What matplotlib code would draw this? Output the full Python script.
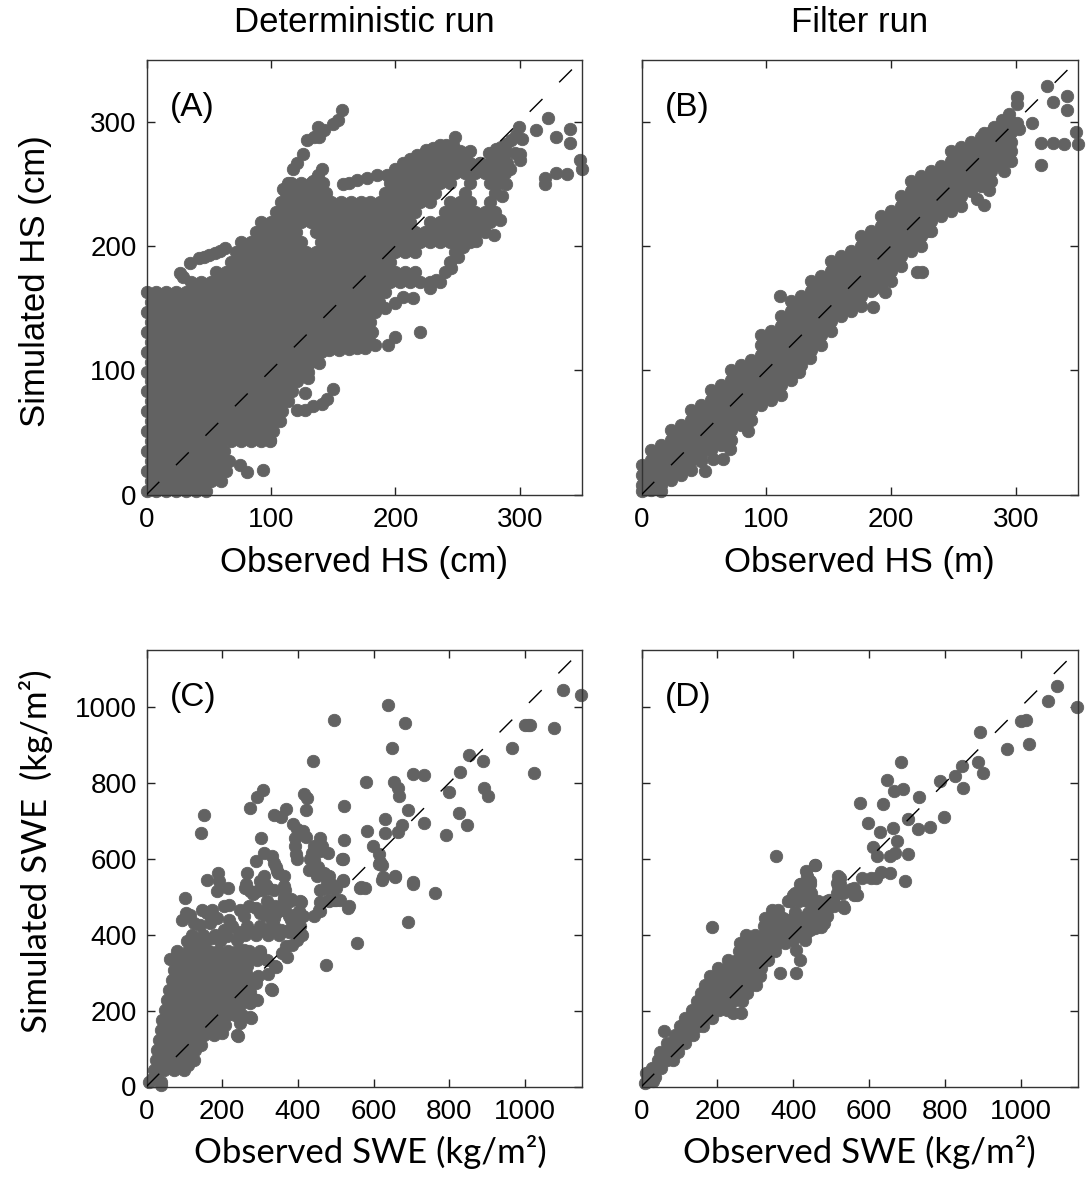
import matplotlib
matplotlib.use("Agg")
import matplotlib.pyplot as plt

plt.rcParams['font.family'] = ['Liberation Sans', 'DejaVu Sans']

# ---------------- Panel A : deterministic run, snow height (cm) ----------------
# dense cloud read row by row: simulated level -> observed values on that row
sim_a_levels = [3, 11, 19, 27, 35, 43, 51, 59, 67, 75, 83, 91, 99, 107, 115, 123, 131,
                139, 147, 155, 163, 171, 179, 187, 195, 203, 211, 219, 227, 235, 243,
                251, 259, 267, 275]
obs_a_rows = [
    [0, 8, 16, 24, 32, 40, 48],
    [4, 12, 20, 28, 36, 44, 52, 60],
    [0, 8, 16, 24, 32, 40, 48, 56, 64],
    [4, 12, 20, 28, 36, 44, 52, 60, 66],
    [0, 8, 16, 24, 32, 40, 48, 56, 62],
    [4, 12, 20, 28, 36, 44, 52, 60, 68, 76, 84, 92, 99],
    [0, 8, 16, 24, 32, 40, 48, 56, 64, 72, 80, 88, 96, 102],
    [4, 12, 20, 28, 36, 44, 52, 60, 68, 76, 84, 92, 100, 107],
    [0, 8, 16, 24, 32, 40, 48, 56, 64, 72, 80, 88, 96, 104, 109],
    [4, 12, 20, 28, 36, 44, 52, 60, 68, 76, 84, 92, 100, 108, 114],
    [0, 8, 16, 24, 32, 40, 48, 56, 64, 72, 80, 88, 96, 104, 112, 117],
    [4, 12, 20, 28, 36, 44, 52, 60, 68, 76, 84, 92, 100, 108, 116, 121],
    [0, 8, 16, 24, 32, 40, 48, 56, 64, 72, 80, 88, 96, 104, 112, 120, 126],
    [4, 12, 20, 28, 36, 44, 52, 60, 68, 76, 84, 92, 100, 108, 116, 124, 132],
    [0, 8, 16, 24, 32, 40, 48, 56, 64, 72, 80, 88, 96, 104, 112, 120, 128, 136, 140],
    [4, 12, 20, 28, 36, 44, 52, 60, 68, 76, 84, 92, 100, 108, 116, 124, 132, 140, 148, 156, 164, 172, 180],
    [0, 8, 16, 24, 32, 40, 48, 56, 64, 72, 80, 88, 96, 104, 112, 120, 128, 136, 144, 152, 160, 168, 176, 181],
    [4, 12, 20, 28, 36, 44, 52, 60, 68, 76, 84, 92, 100, 108, 116, 124, 132, 140, 148, 156, 164, 172, 180],
    [0, 8, 16, 24, 32, 40, 48, 56, 64, 72, 80, 88, 96, 104, 112, 120, 128, 136, 144, 152, 160, 168, 176, 184],
    [4, 12, 20, 28, 36, 44, 52, 60, 68, 76, 84, 92, 100, 108, 116, 124, 132, 140, 148, 156, 164, 172, 180, 187],
    [0, 8, 16, 24, 32, 40, 48, 56, 64, 72, 80, 88, 96, 104, 112, 120, 128, 136, 144, 152, 160, 168, 176, 184, 192],
    [36, 44, 52, 60, 68, 76, 84, 92, 100, 108, 116, 124, 132, 140, 148, 156, 164, 172, 180, 188, 196, 204, 212, 220, 228, 236],
    [56, 64, 72, 80, 88, 96, 104, 112, 120, 128, 136, 144, 152, 160, 168, 176, 184, 192, 200, 208, 216, 240],
    [68, 76, 84, 92, 100, 108, 116, 124, 132, 140, 148, 156, 164, 172, 180, 188, 196, 244],
    [72, 80, 88, 96, 104, 112, 120, 128, 136, 144, 152, 160, 168, 176, 184, 192, 200, 208, 216, 248],
    [76, 84, 92, 100, 108, 116, 124, 140, 148, 156, 164, 172, 180, 188, 196, 204, 212, 220, 228, 236, 244, 252, 260],
    [88, 96, 104, 112, 120, 136, 144, 152, 160, 168, 176, 184, 192, 200, 208, 216, 224, 232, 240, 248, 256, 264, 272],
    [92, 100, 108, 116, 124, 132, 140, 148, 156, 164, 172, 180, 188, 196, 204, 212, 228, 236, 244, 252, 260, 268, 276],
    [104, 112, 120, 128, 136, 144, 152, 160, 168, 176, 184, 192, 200, 208, 216, 240, 248, 256, 264, 272, 280],
    [108, 116, 124, 132, 140, 148, 156, 164, 172, 180, 188, 196, 204, 212, 220, 228, 244, 252, 260, 276],
    [112, 120, 128, 136, 144, 192, 200, 208, 216, 224, 232, 256, 280],
    [116, 124, 132, 140, 196, 204, 212, 220, 228, 236, 244, 260, 276, 284],
    [200, 208, 216, 224, 232, 240, 248, 256, 264, 272, 280, 288],
    [212, 220, 228, 236, 244, 252, 260, 268, 276, 284, 290],
    [224, 232, 240, 248, 256, 280, 288, 296],
]
# individual points on the edges of the cloud (streaks and outliers)
obs_a_extra = [29, 27, 35, 42, 46, 50, 55, 59, 63,
               110, 114, 118, 121, 126, 129, 135, 139, 138, 143, 150, 154, 157,
               126, 130, 134, 138, 141, 142,
               158, 163, 169, 177, 185,
               193, 200, 206, 212, 217, 225, 230, 236, 241, 246, 248, 252, 260, 268, 275, 281, 285, 289, 293, 297, 299, 302,
               300, 300, 313, 323, 329, 340, 340, 348, 350, 320, 320, 329, 338,
               265, 254, 250, 245, 279, 284, 286, 289, 292,
               200, 194, 220, 192, 200, 206, 214, 228, 233,
               147, 155, 163, 169, 176, 184,
               121, 127, 134, 141, 145, 150, 127, 130, 130, 139,
               75, 81, 94, 99]
sim_a_extra = [175, 178, 186, 190, 191, 193, 194, 196, 198,
               246, 251, 262, 267, 274, 285, 288, 288, 296, 293, 298, 301, 309,
               239, 245, 252, 257, 262, 251,
               250, 251, 253, 255, 257,
               257, 262, 267, 270, 273, 277, 279, 281, 281, 281, 288, 276, 276, 267, 275, 278, 280, 282, 285, 289, 296, 286,
               274, 269, 293, 303, 288, 294, 283, 269, 262, 255, 250, 259, 258,
               204, 199, 191, 182, 209, 221, 240, 250, 262,
               127, 120, 131, 150, 154, 159, 158, 166, 173,
               116, 116, 117, 118, 118, 120,
               68, 68, 71, 73, 77, 85, 82, 94, 99, 106,
               24, 18, 20, 44]

# ---------------- Panel B : filter run, snow height ----------------
# dense band read column by column: observed value -> simulated values in that column
obs_b_levels = [0, 8, 16, 24, 32, 40, 48, 56, 64, 72, 80, 88, 96, 104, 112, 120, 128, 136,
                144, 152, 160, 168, 176, 184, 192, 200, 208, 216, 224, 232, 240, 248, 256,
                264, 272, 280, 288, 296]
sim_b_cols = [
    [3, 8, 16, 24], [4, 12, 20, 28, 36], [3, 8, 16, 24, 32, 40], [12, 20, 28, 36, 44, 52],
    [16, 24, 32, 40, 48, 56], [20, 28, 36, 44, 52, 60, 68], [27, 32, 40, 48, 56, 64, 72],
    [36, 44, 52, 60, 68, 76, 84], [40, 48, 56, 64, 72, 80, 88], [44, 52, 60, 68, 76, 84, 92, 100],
    [56, 64, 72, 80, 88, 96, 104], [60, 68, 76, 84, 92, 100, 108],
    [72, 80, 88, 96, 104, 112, 120, 128], [76, 84, 92, 100, 108, 116, 124, 132],
    [80, 88, 96, 104, 112, 120, 128, 136, 144], [92, 100, 108, 116, 124, 132, 140, 148, 156],
    [104, 112, 120, 128, 136, 144, 152, 160], [116, 124, 132, 140, 148, 156, 164, 172],
    [120, 128, 136, 144, 152, 160, 168, 176], [132, 140, 148, 156, 164, 172, 180, 188],
    [144, 152, 160, 168, 176, 184, 192], [148, 156, 164, 172, 180, 188, 196],
    [152, 160, 168, 176, 184, 192, 200, 208], [164, 172, 180, 188, 196, 204, 212],
    [168, 176, 184, 192, 200, 208, 216, 224], [172, 180, 188, 196, 204, 212, 220, 228],
    [184, 192, 200, 208, 216, 224, 232, 240], [196, 204, 212, 220, 228, 236, 244, 252],
    [200, 208, 216, 224, 232, 240, 248, 256], [212, 220, 228, 236, 244, 252, 260],
    [224, 232, 240, 248, 256, 264], [228, 236, 244, 252, 260, 268, 276],
    [232, 240, 248, 256, 264, 272, 280], [244, 252, 260, 268, 276, 284],
    [248, 256, 264, 272, 280, 288], [252, 260, 268, 276, 284, 292],
    [264, 272, 280, 288, 296], [268, 276, 284, 292, 300],
]
obs_b_extra = [275, 283, 289, 295, 301, 301, 303, 313, 325, 330, 341, 341, 348, 350, 320,
               330, 339, 320, 301, 279, 291, 269, 275, 229, 221, 225, 195, 186, 186, 135,
               126, 111, 85, 71, 57, 65, 51]
sim_b_extra = [291, 296, 301, 306, 314, 320, 294, 299, 329, 316, 321, 309, 292, 282, 283,
               283, 282, 265, 299, 245, 260, 238, 233, 212, 179, 179, 163, 151, 165, 110,
               99, 160, 51, 37, 29, 29, 19]

# ---------------- Panel C : deterministic run, SWE (kg/m2) ----------------
obs_c = [1099, 1147, 1000, 1007, 1013, 1075, 965, 1024, 851, 888,
         829, 892, 901, 798, 824, 846, 790, 637, 683, 494,
         647, 439, 704, 732, 579, 654, 663, 668, 690, 733,
         631, 675, 663, 631, 581, 521, 597, 613, 617, 522,
         518, 151, 145, 307, 292, 274, 336, 354, 369, 415,
         424, 422, 386, 398, 413, 393, 303, 457, 393, 396,
         441, 437, 459, 310, 332, 336, 288, 345, 266, 301,
         189, 191, 160, 185, 215, 264, 274, 292, 318, 336,
         362, 398, 433, 428, 450, 468, 477, 490, 516, 519,
         565, 512, 494, 534, 456, 481, 101, 103, 116, 94,
         147, 160, 173, 204, 217, 248, 318, 340, 362, 380,
         406, 288, 301, 314, 336, 354, 376, 389, 411, 406,
         384, 257, 187, 169, 142, 125, 217, 226, 244, 204,
         266, 283, 301, 318, 336, 354, 376, 411, 398, 384,
         369, 358, 371, 340, 318, 301, 292, 274, 257, 107,
         125, 138, 156, 173, 195, 213, 239, 62, 90, 103,
         121, 138, 160, 178, 195, 217, 235, 252, 266, 72,
         98, 125, 151, 178, 204, 230, 257, 68, 94, 121,
         147, 173, 200, 226, 252, 274, 329, 288, 274, 292,
         274, 59, 85, 112, 138, 165, 191, 217, 244, 55,
         81, 107, 134, 160, 187, 213, 239, 261, 50, 77,
         103, 129, 156, 182, 208, 235, 41, 68, 94, 121,
         147, 173, 200, 252, 274, 248, 37, 63, 90, 116,
         143, 169, 195, 239, 200, 178, 33, 59, 85, 112,
         138, 28, 55, 81, 107, 129, 24, 50, 77, 103,
         125, 19, 46, 72, 98, 24, 15, 37, 6, 37,
         613, 622, 622, 655, 705, 761, 690, 578, 316, 362,
         367, 362, 341, 347, 311, 306, 321, 260, 281, 271,
         311, 341, 331, 382, 367, 402, 407, 412, 397, 438,
         443, 453, 468, 422, 463, 478, 458, 476, 458, 483,
         493, 458, 443, 382, 377, 473, 557, 703, 625, 655,
         566, 532, 501, 478, 500, 519, 242, 276, 250, 281,
         331, 341, 321, 295]
sim_c = [1044, 1031, 952, 952, 952, 945, 890, 825, 872, 858,
         829, 787, 765, 775, 720, 689, 662, 1004, 958, 965,
         890, 856, 822, 819, 801, 802, 787, 765, 728, 693,
         703, 689, 671, 668, 672, 739, 633, 613, 591, 649,
         599, 714, 668, 781, 762, 732, 715, 710, 730, 769,
         760, 729, 690, 677, 672, 655, 655, 655, 633, 611,
         633, 607, 620, 615, 606, 589, 593, 567, 562, 540,
         561, 540, 543, 514, 523, 532, 514, 514, 523, 518,
         527, 598, 598, 571, 554, 562, 536, 523, 598, 543,
         523, 492, 492, 474, 464, 488, 495, 457, 452, 439,
         466, 457, 466, 474, 479, 466, 488, 474, 496, 488,
         488, 470, 457, 452, 444, 466, 448, 452, 448, 422,
         417, 448, 444, 430, 426, 430, 439, 422, 408, 413,
         422, 408, 422, 413, 422, 413, 408, 400, 386, 373,
         369, 351, 342, 316, 334, 351, 334, 347, 360, 382,
         369, 378, 386, 391, 382, 395, 386, 336, 343, 334,
         338, 343, 347, 334, 338, 334, 343, 329, 316, 307,
         307, 307, 307, 307, 307, 307, 307, 281, 281, 281,
         281, 281, 281, 281, 281, 281, 256, 272, 250, 228,
         219, 255, 255, 255, 255, 255, 255, 255, 255, 228,
         228, 228, 228, 228, 228, 228, 228, 228, 202, 202,
         202, 202, 202, 202, 202, 202, 175, 175, 175, 175,
         175, 175, 175, 189, 184, 167, 149, 149, 149, 149,
         149, 149, 149, 136, 140, 153, 123, 123, 123, 123,
         123, 96, 96, 96, 96, 96, 70, 70, 70, 70,
         70, 43, 43, 43, 43, 35, 21, 13, 13, 5,
         587, 584, 543, 554, 538, 510, 434, 523, 531, 554,
         517, 494, 577, 563, 554, 517, 522, 522, 508, 476,
         462, 457, 430, 494, 466, 462, 485, 448, 416, 614,
         596, 577, 559, 656, 633, 614, 517, 522, 485, 554,
         531, 462, 448, 439, 411, 319, 377, 534, 551, 551,
         524, 471, 490, 490, 522, 540, 134, 180, 222, 231,
         254, 314, 296, 292]
# dense core of panel C, read row by row (in-between rows)
sim_c_levels = [57, 83, 110, 136, 162, 189, 215, 242, 268, 294, 320, 356, 400]
obs_c_rows = [
    [33, 59, 85, 110],
    [37, 63, 90, 116],
    [41, 68, 94, 120, 145],
    [46, 72, 98, 125, 151, 178],
    [50, 77, 103, 129, 156, 182, 208],
    [55, 81, 107, 134, 160, 186, 212, 235],
    [64, 90, 116, 143, 169, 195, 221, 246],
    [72, 98, 125, 151, 178, 204, 230, 256],
    [81, 107, 134, 160, 187, 213, 239, 262],
    [85, 111, 138, 164, 191, 217, 243, 266],
    [80, 110, 140, 165, 190, 215, 240, 262],
    [80, 110, 140, 165, 190, 215, 240, 270, 300],
    [120, 150, 180, 260, 290, 320, 350],
]

# ---------------- Panel D : filter run, SWE ----------------
obs_d = [1094, 1071, 1147, 1000, 1012, 1021, 964, 892, 886, 899,
         844, 825, 787, 847, 796, 683, 647, 664, 689, 731,
         576, 636, 702, 597, 629, 662, 729, 759, 674, 611,
         620, 654, 667, 702, 355, 456,
         458, 434, 443, 417, 425, 399, 386, 522, 515, 522,
         553, 561, 582, 605, 531, 505, 487, 474, 461, 452,
         439, 404, 346, 368, 469, 456, 443, 417, 430, 399,
         408, 417, 408, 364,
         494, 481, 463, 472, 489, 441, 450, 472, 481, 507,
         534, 518, 520, 560, 569, 617, 630, 655, 694, 556,
         58, 187, 241, 263, 13, 30, 8]
sim_d = [1055, 1015, 1000, 961, 964, 903, 888, 934, 855, 826,
         844, 817, 804, 785, 710, 855, 806, 778, 782, 762,
         746, 745, 705, 693, 671, 681, 679, 682, 646, 631,
         606, 606, 615, 613, 606, 584,
         582, 567, 540, 532, 510, 505, 488, 549, 536, 510,
         520, 505, 549, 549, 474, 488, 483, 466, 461, 448,
         457, 459, 452, 444, 426, 417, 413, 413, 386, 386,
         360, 334, 299, 299,
         490, 480, 476, 457, 448, 430, 420, 420, 430, 476,
         471, 527, 545, 522, 503, 548, 564, 562, 542, 511,
         147, 420, 193, 193, 35, 14, 8]
# dense lower band, read row by row
sim_d_levels = [26, 48, 70, 92, 114, 136, 158, 180, 202, 224, 246, 268, 290, 312, 334,
                356, 378, 400, 422, 444, 466, 488, 510, 532, 554]
obs_d_rows = [
    [20, 36], [28, 52], [44, 66, 84], [50, 72, 96], [66, 90, 114], [88, 112, 136],
    [102, 126, 150, 162], [115, 139, 163, 187], [132, 156, 180, 204, 226],
    [146, 170, 194, 218, 242, 266], [158, 182, 206, 230, 254, 278],
    [168, 192, 216, 240, 264, 288, 302], [180, 204, 228, 252, 276, 300, 312],
    [202, 226, 250, 274, 298, 316], [228, 252, 276, 300, 324, 334],
    [256, 280, 304, 328, 352], [260, 284, 308, 332, 356, 378],
    [274, 298, 322, 346, 370, 394, 418, 430], [322, 346, 370, 394, 418, 442, 456],
    [326, 350, 374, 398, 422, 446, 468], [344, 360, 448, 472, 490],
    [392, 416, 436, 466, 490, 505], [404, 428, 446, 516, 530], [420, 444, 522], [436, 518],
]

hs_ticks = [0, 100, 200, 300]
swe_ticks = [0, 200, 400, 600, 800, 1000]
HS_MAX = 350
SWE_MAX = 1150


def rows_to_xy(levels, rows, by_row=True):
    xs, ys = [], []
    for lev, vals in zip(levels, rows):
        for v in vals:
            if by_row:
                xs.append(v); ys.append(lev)
            else:
                xs.append(lev); ys.append(v)
    return xs, ys


ax_a_x, ax_a_y = rows_to_xy(sim_a_levels, obs_a_rows, by_row=True)
ax_a_x += obs_a_extra; ax_a_y += sim_a_extra
ax_b_x, ax_b_y = rows_to_xy(obs_b_levels, sim_b_cols, by_row=False)
ax_b_x += obs_b_extra; ax_b_y += sim_b_extra
c_x, c_y = rows_to_xy(sim_c_levels, obs_c_rows, by_row=True)
ax_c_x = obs_c + c_x
ax_c_y = sim_c + c_y
d_x, d_y = rows_to_xy(sim_d_levels, obs_d_rows, by_row=True)
ax_d_x = obs_d + d_x
ax_d_y = sim_d + d_y

POINT = "#626262"
W, H = 1089, 1177
fig = plt.figure(figsize=(W / 100, H / 100), dpi=100)


def add_ax(l, t, r, b):
    return fig.add_axes([l / W, 1 - b / H, (r - l) / W, (b - t) / H])


axA = add_ax(146.5, 59.5, 582, 494.6)
axB = add_ax(641.5, 59.5, 1078, 494.6)
axC = add_ax(146.5, 649.7, 582, 1086.5)
axD = add_ax(641.5, 649.7, 1078, 1086.5)

swe_font = ['Lato', 'DejaVu Sans']


def style(ax, lim, ticks, left_labels):
    ax.set_xlim(0, lim)
    ax.set_ylim(0, lim)
    ax.set_xticks(ticks)
    ax.set_yticks(ticks)
    ax.tick_params(direction='in', length=6, width=1.0, top=True, right=True,
                   labelsize=20, colors='#222222', labelcolor='black')
    ax.tick_params(axis='x', pad=9)
    ax.tick_params(axis='y', pad=7, labelleft=left_labels)
    for sp in ax.spines.values():
        sp.set_linewidth(1.0)
        sp.set_color('#333333')


for ax, xs, ys, lim, ticks, left, lab in [
        (axA, ax_a_x, ax_a_y, HS_MAX, hs_ticks, True, "(A)"),
        (axB, ax_b_x, ax_b_y, HS_MAX, hs_ticks, False, "(B)"),
        (axC, ax_c_x, ax_c_y, SWE_MAX, swe_ticks, True, "(C)"),
        (axD, ax_d_x, ax_d_y, SWE_MAX, swe_ticks, False, "(D)")]:
    ax.scatter(xs, ys, s=80, c=POINT, edgecolors=POINT, linewidths=0.6,
               clip_on=False, zorder=2)
    ax.plot([0, lim], [0, lim], color='black', lw=1.0, dashes=(13, 17), zorder=3)
    style(ax, lim, ticks, left)
    ax.text(0.053, 0.89, lab, transform=ax.transAxes, fontsize=24,
            ha='left', va='center', zorder=4)

axA.set_xlabel("Observed HS (cm)", fontsize=25, va='center')
axA.xaxis.set_label_coords(0.5, -0.155)
axB.set_xlabel("Observed HS (m)", fontsize=25, va='center')
axB.xaxis.set_label_coords(0.5, -0.155)
axA.set_ylabel("Simulated HS (cm)", fontsize=25, va='center')
axA.yaxis.set_label_coords(-0.256, 0.49)

axC.set_xlabel("Observed SWE (kg/m²)", fontsize=25, va='center', family=swe_font)
axC.xaxis.set_label_coords(0.515, -0.15)
axD.set_xlabel("Observed SWE (kg/m²)", fontsize=25, va='center', family=swe_font)
axD.xaxis.set_label_coords(0.5, -0.15)
axC.set_ylabel("Simulated SWE  (kg/m²)", fontsize=25, va='center', family=swe_font)
axC.yaxis.set_label_coords(-0.2526, 0.539)

fig.text(364 / W, 1 - 22 / H, "Deterministic run", fontsize=25, ha='center', va='center')
fig.text(860 / W, 1 - 22 / H, "Filter run", fontsize=25, ha='center', va='center')

fig.savefig("out.png", dpi=100)
